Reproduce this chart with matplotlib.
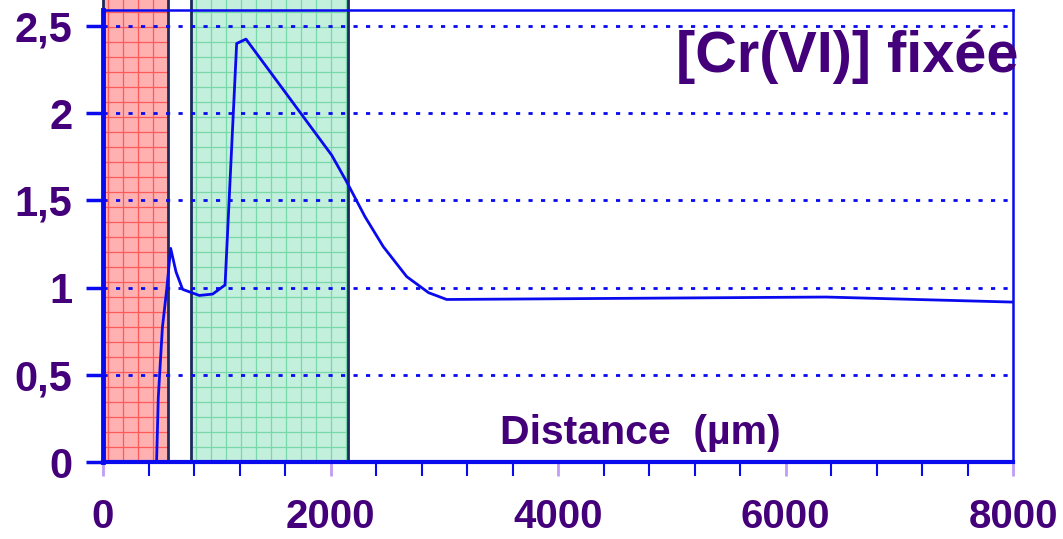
import numpy as np
import matplotlib
matplotlib.use("Agg")
import matplotlib.pyplot as plt
from matplotlib.patches import Rectangle

# Data
distance = [471, 486, 522, 560, 595, 642, 700, 847, 964, 1073, 1175, 1257,
            2010, 2142, 2303, 2464, 2670, 2862, 3021, 6356, 8000]
cr_fixed = [0.0, 0.37, 0.77, 0.99, 1.225, 1.09, 0.99, 0.955, 0.963, 1.015, 2.40, 2.425,
            1.76, 1.607, 1.407, 1.235, 1.063, 0.971, 0.932, 0.946, 0.917]
red_zone = (0, 571)
green_zone = (774, 2154)
y_ticks = [0, 0.5, 1, 1.5, 2, 2.5]
y_labels = ["0", "0,5", "1", "1,5", "2", "2,5"]
x_major = [0, 2000, 4000, 6000, 8000]
x_labels = ["0", "2000", "4000", "6000", "8000"]

W, H = 1063, 539
fig = plt.figure(figsize=(W / 100, H / 100), dpi=100)
ax = fig.add_axes([103 / W, 1 - 462 / H, 910 / W, 452 / H])
ax.set_xlim(0, 8000)
ax.set_ylim(0, 2.592)

purple = "#44007a"
blue = "#0a0aee"

# shaded zones with grid texture, extending to the top of the figure
ytop = 2.649
px_x = 8000 / 910.0
px_y = 2.592 / 452.0
def zone(x0, x1, face, line):
    r = Rectangle((x0, 0), x1 - x0, ytop, facecolor=face, edgecolor="none",
                  clip_on=False, zorder=1)
    ax.add_patch(r)
    step_x = 15 * px_x
    xs = np.arange(x0 + 5 * px_x, x1, step_x)
    for xv in xs:
        ax.plot([xv, xv], [0, ytop], color=line, lw=0.9, clip_on=False, zorder=1.5)
    step_y = 15 * px_y
    ys = np.arange(0, ytop, step_y)
    for yv in ys:
        ax.plot([x0, x1], [yv, yv], color=line, lw=0.9, clip_on=False, zorder=1.5)
    ax.plot([x0, x0, x1, x1], [ytop, 0, 0, ytop], color="#1c2a5c", lw=2,
            clip_on=False, zorder=2)

zone(red_zone[0], red_zone[1], "#ffb0b0", "#ff5a5a")
zone(green_zone[0], green_zone[1], "#c2f0dc", "#78d8aa")

# dotted gridlines
for yv in y_ticks[1:]:
    ax.axhline(yv, color=blue, lw=2.0, ls=(0, (1.5, 3.0)), zorder=2.5)

ax.plot(distance, cr_fixed, color=blue, lw=2.0, zorder=3)

# spines
for s in ["top", "right"]:
    ax.spines[s].set_color(blue)
    ax.spines[s].set_linewidth(1.8)
ax.spines["left"].set_color(blue)
ax.spines["left"].set_linewidth(3.5)
ax.spines["bottom"].set_color(blue)
ax.spines["bottom"].set_linewidth(3)
for s in ax.spines.values():
    s.set_zorder(4)

ax.set_yticks(y_ticks)
ax.set_yticklabels(y_labels)
ax.set_xticks(x_major)
ax.set_xticklabels(x_labels)
ax.set_xticks(np.arange(0, 8001, 400), minor=True)
ax.tick_params(axis="y", direction="out", length=12, width=2.5, color=blue,
               labelsize=30, labelcolor=purple, pad=10)
ax.tick_params(axis="x", which="major", direction="out", length=10, width=2,
               color="#c09cf4", labelsize=29, labelcolor=purple, pad=16)
ax.tick_params(axis="x", which="minor", direction="out", length=10, width=1.5,
               color=blue)
for lab in ax.get_xticklabels() + ax.get_yticklabels():
    lab.set_fontweight("bold")
    lab.set_family("Liberation Sans")

fig.text(640 / W, 1 - 433 / H, "Distance  (µm)", color=purple, fontsize=29.5,
         fontweight="bold", family="Liberation Sans", ha="center", va="center",
         zorder=5)
fig.text(1018 / W, 1 - 72 / H, "[Cr(VI)] fixée", color=purple, fontsize=41.5,
         fontweight="bold", family="Liberation Sans", ha="right", va="baseline",
         zorder=5)

fig.savefig("out.png", dpi=100)
